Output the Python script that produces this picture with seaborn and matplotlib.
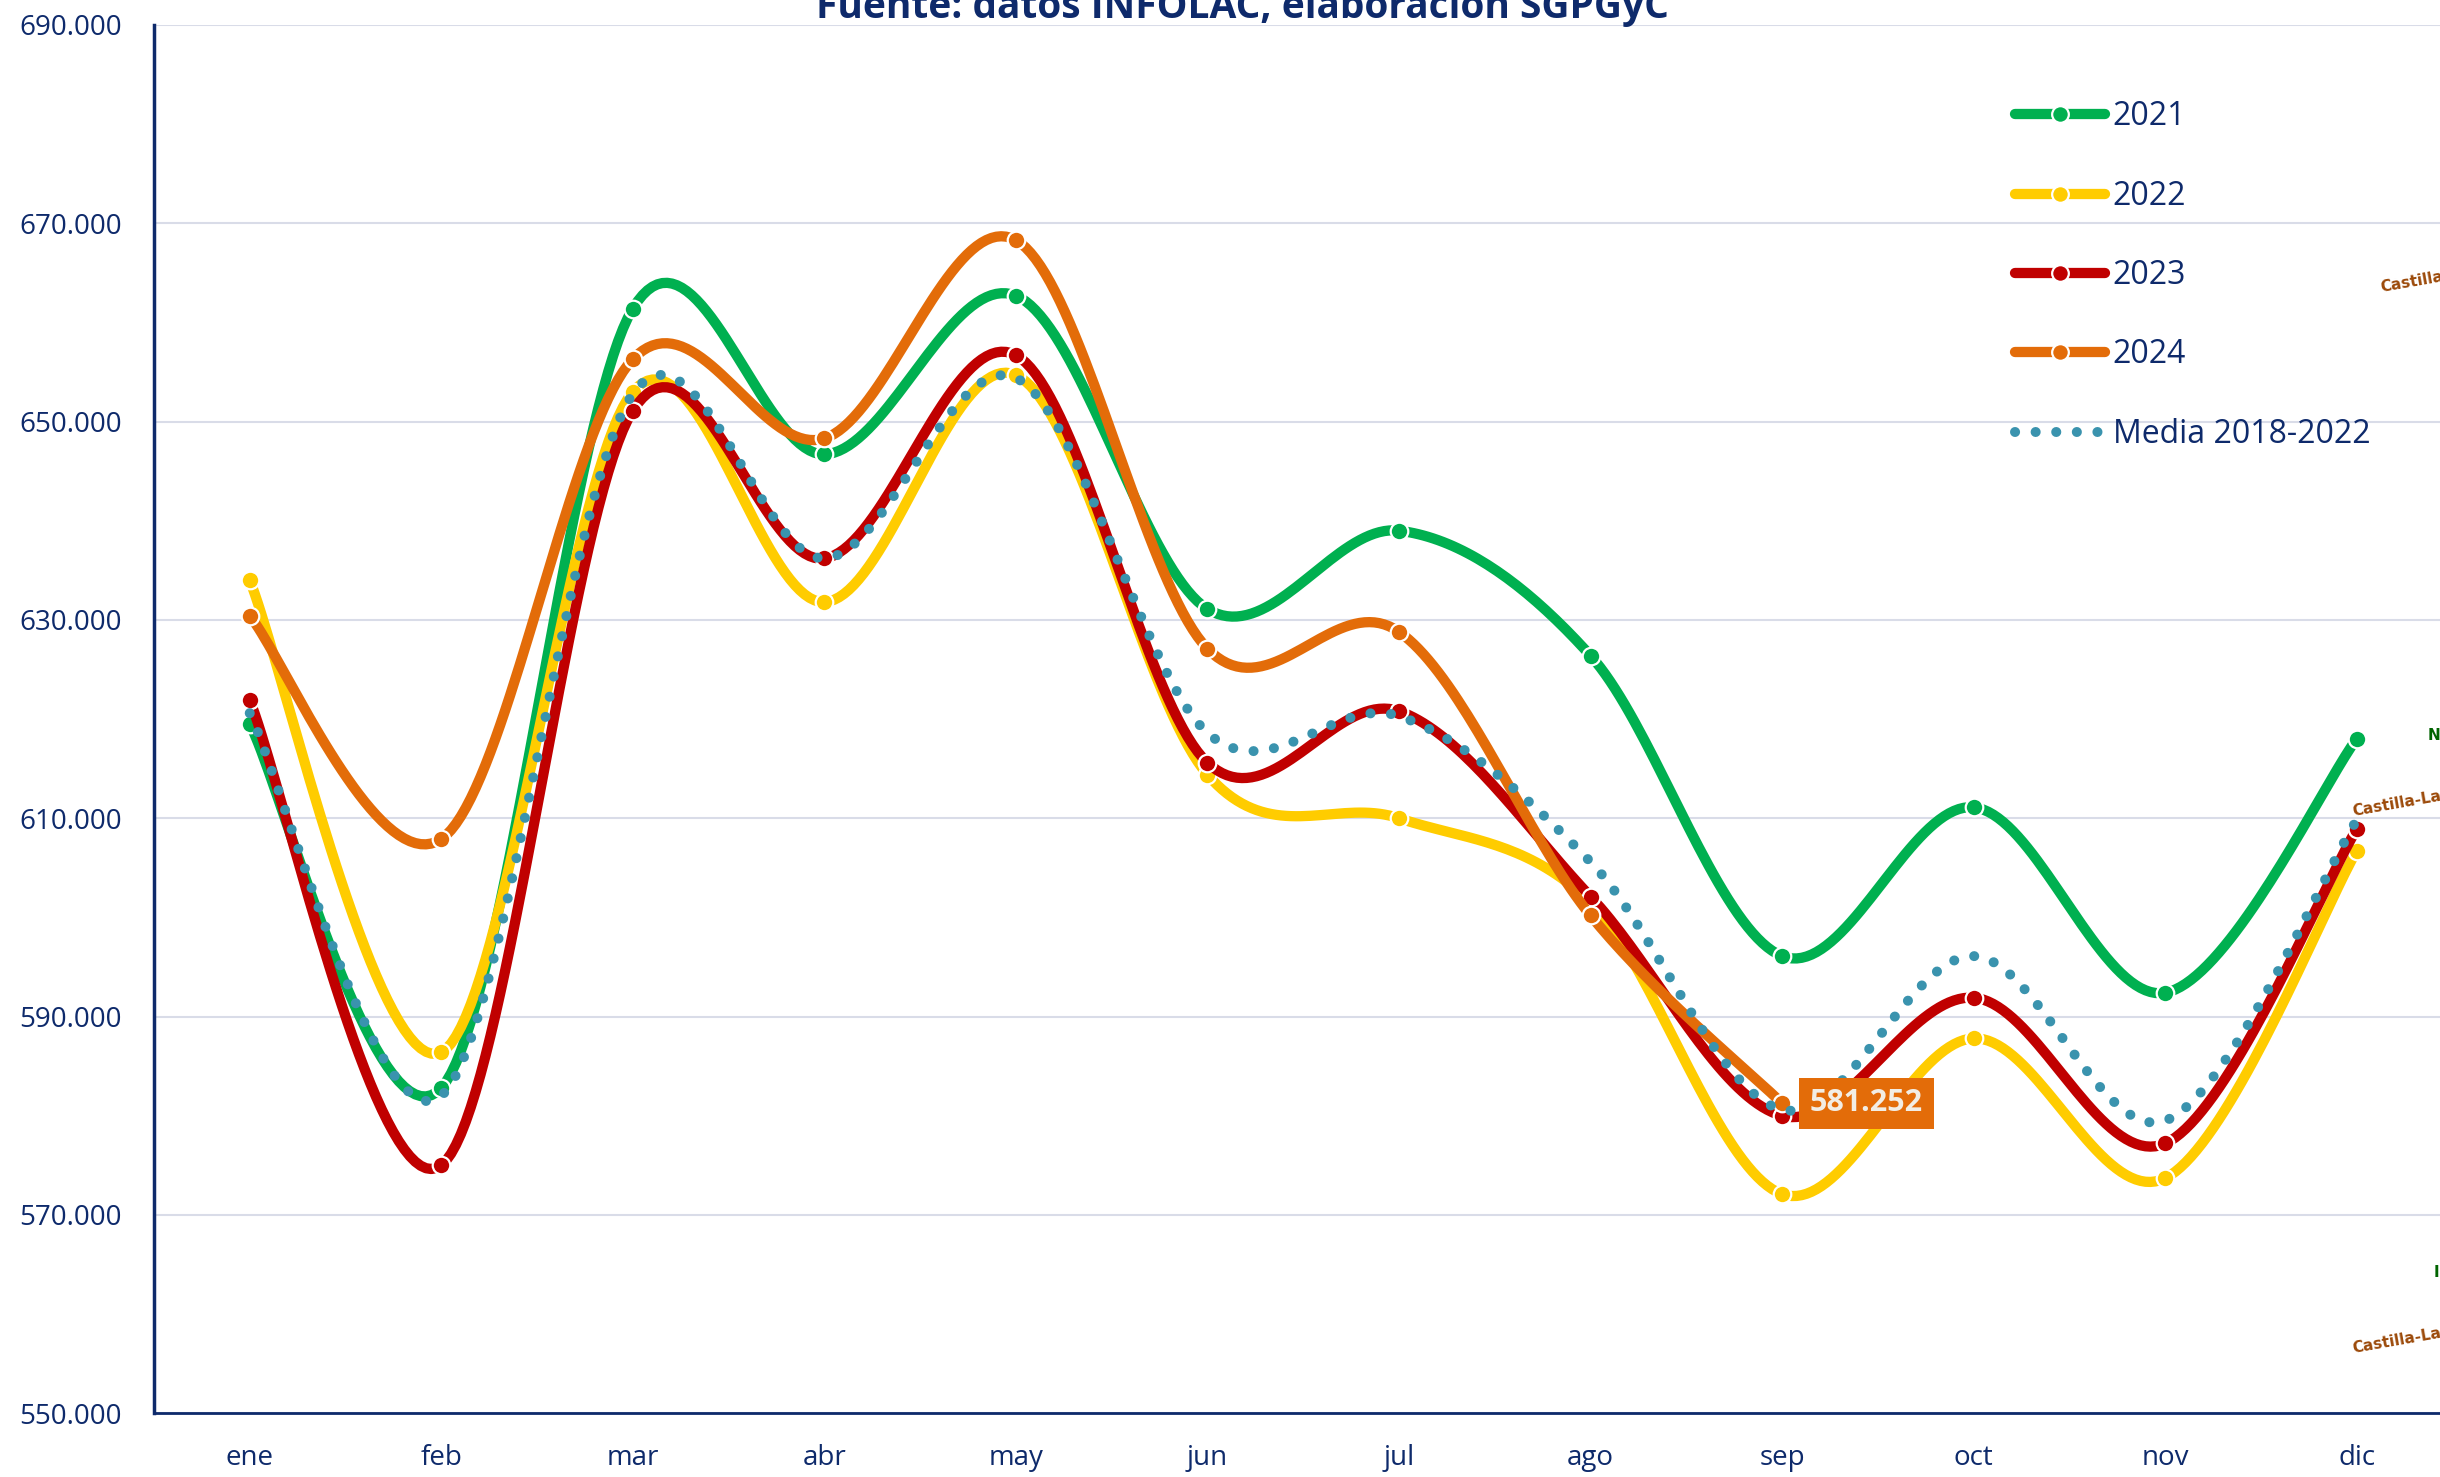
import numpy as np
import pandas as pd
import matplotlib
matplotlib.use("Agg")
import matplotlib.pyplot as plt
from matplotlib.lines import Line2D
import seaborn as sns

# ------------------------------------------------------------------
# DATA
# ------------------------------------------------------------------
months = ['ene', 'feb', 'mar', 'abr', 'may', 'jun', 'jul', 'ago', 'sep', 'oct', 'nov', 'dic']

y2021 = [619500, 582800, 661400, 646700, 662700, 631100, 639000, 626400, 596100, 611100, 592400, 618000]
y2022 = [634000, 586400, 653000, 631800, 654700, 614400, 610000, 601500, 572100, 587800, 573700, 606700]
y2023 = [621900, 575000, 651100, 636200, 656700, 615600, 620800, 602100, 580000, 591900, 577200, 608900]
y2024 = [630400, 607900, 656300, 648300, 668300, 627100, 628800, 600200, 581252]
media = [620600, 582000, 652800, 636200, 654400, 618600, 620300, 605600, 580600, 596100, 579500, 609800]

series_names = ['2021', '2022', '2023', '2024', 'Media 2018-2022']
series_vals = [y2021, y2022, y2023, y2024, media]
colors = ['#00B050', '#FFCC00', '#C00000', '#E36C09', '#3A93AE']

NAVY = '#0E2A6B'
GRID = '#D9DCE8'
DOTS = (0, (0.01, 2.05))
LW = 7.4
DOT_LW = 7.2

sns.set_theme(style="white")
plt.rcParams['font.family'] = ['Open Sans', 'DejaVu Sans']


def excel_smooth(x, y, n=40):
    """Bezier smoothing like Excel's 'smoothed line' (Catmull-Rom style)."""
    P = np.column_stack([x, y]).astype(float)
    P = np.vstack([P[0], P, P[-1]])
    pts = []
    t = np.linspace(0, 1, n)[:, None]
    for i in range(1, len(P) - 2):
        p0, p1, p2, p3 = P[i - 1], P[i], P[i + 1], P[i + 2]
        c1 = p1 + (p2 - p0) / 6
        c2 = p2 - (p3 - p1) / 6
        b = (1 - t) ** 3 * p1 + 3 * (1 - t) ** 2 * t * c1 + 3 * (1 - t) * t ** 2 * c2 + t ** 3 * p2
        pts.append(b if i == 1 else b[1:])
    pts = np.vstack(pts)
    return pts[:, 0], pts[:, 1]


fig = plt.figure(figsize=(24.4, 14.77), dpi=100)
ax = fig.add_axes([0.0631, 0.0432, 0.9420, 0.9399])

for k, (name, vals, col) in enumerate(zip(series_names, series_vals, colors)):
    xi = np.arange(len(vals))
    sx, sy = excel_smooth(xi, vals)
    if name.startswith('Media'):
        sns.lineplot(x=sx, y=sy, ax=ax, color=col, lw=DOT_LW, sort=False, estimator=None,
                     zorder=10)
        ln = ax.lines[-1]
        ln.set_linestyle(DOTS)
        ln.set_dash_capstyle('round')
    else:
        sns.lineplot(x=sx, y=sy, ax=ax, color=col, lw=LW, sort=False, estimator=None,
                     zorder=3 + k)
        sns.scatterplot(x=xi, y=vals, ax=ax, color=col, s=160, edgecolor='white',
                        linewidth=1.6, zorder=3.5 + k)

# data label for the last 2024 point
last = y2024[-1]
ax.annotate(f"{last:,}".replace(",", "."),
            xy=(len(y2024) - 1, last), xytext=(20, 0), textcoords='offset points',
            ha='left', va='center', fontsize=22, fontweight='bold', color='#F2EDE4',
            bbox=dict(boxstyle='square,pad=0.35', fc='#E36C09', ec='none'), zorder=20)

# axes styling
ax.set_xlim(-0.5, 11.5)
ax.set_ylim(550000, 690000)
yt = np.arange(550000, 690001, 20000)
ax.set_yticks(yt)
ax.set_yticklabels([f"{v:,.0f}".replace(",", ".") for v in yt])
ax.set_xticks(np.arange(12))
ax.set_xticklabels(months)
ax.set_xticks(np.arange(-0.5, 12, 1), minor=True)
ax.tick_params(axis='x', which='major', length=0, pad=22, labelsize=20, labelcolor=NAVY)
ax.tick_params(axis='x', which='minor', length=11, width=2, color=NAVY, direction='out')
ax.tick_params(axis='y', which='major', length=11, width=2, color=NAVY, direction='out',
               pad=12, labelsize=20, labelcolor=NAVY)
ax.grid(axis='y', color=GRID, lw=1.5, zorder=0)
ax.set_axisbelow(True)
for s in ['top', 'right']:
    ax.spines[s].set_visible(False)
ax.spines['left'].set_color(NAVY)
ax.spines['left'].set_linewidth(2.5)
ax.spines['bottom'].set_color(NAVY)
ax.spines['bottom'].set_linewidth(2)
ax.set_xlabel('')
ax.set_ylabel('')

# legend
handles = []
for name, col in zip(series_names, colors):
    if name.startswith('Media'):
        h = Line2D([0], [0], color=col, lw=DOT_LW, linestyle=DOTS, dash_capstyle='round')
    else:
        h = Line2D([0], [0], color=col, lw=LW, marker='o', markersize=12,
                   markeredgecolor='white', markeredgewidth=1.6, solid_capstyle='round')
    handles.append(h)
leg = fig.legend(handles, series_names, loc='upper left', bbox_to_anchor=(0.826, 0.932),
                 frameon=False, fontsize=23, handlelength=2.8, handletextpad=0.25,
                 labelspacing=1.45, borderpad=0, borderaxespad=0)
for t in leg.get_texts():
    t.set_color(NAVY)

# title (partly cut off at the top of the canvas, as in the source)
fig.text(0.509, 0.9875, "Fuente: datos INFOLAC, elaboración SGPGyC", ha='center',
         va='baseline', fontsize=28, fontweight='bold', color=NAVY)

# clipped labels from neighbouring content at the right edge
BROWN = '#9C4A0A'
side = dict(fontsize=11, fontweight='bold', family='DejaVu Sans', va='baseline',
            ha='left', rotation_mode='anchor')
fig.text(2381 / 2440, 1 - 292 / 1477, "Castilla", color=BROWN, rotation=10, **side)
fig.text(2428 / 2440, 1 - 740 / 1477, "N", color='#006400', **side)
fig.text(2353 / 2440, 1 - 816 / 1477, "Castilla-La", color=BROWN, rotation=10, **side)
fig.text(2434 / 2440, 1 - 1277 / 1477, "I", color='#006400', **side)
fig.text(2353 / 2440, 1 - 1353 / 1477, "Castilla-La", color=BROWN, rotation=10, **side)

fig.savefig("out.png", dpi=100)
